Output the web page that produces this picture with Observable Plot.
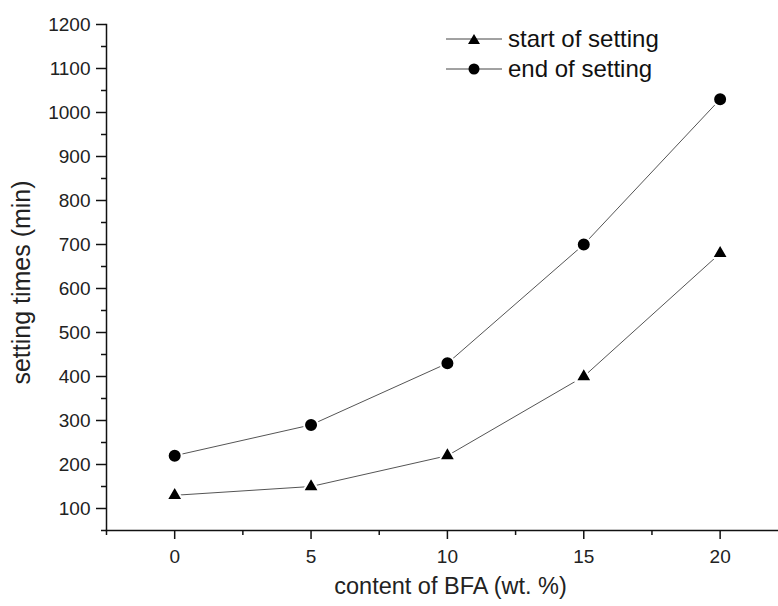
<!DOCTYPE html>
<html>
<head>
<meta charset="utf-8">
<script src="https://cdn.jsdelivr.net/npm/d3@7"></script>
<script src="https://cdn.jsdelivr.net/npm/@observablehq/plot@0.6"></script>
<style>
  html, body { margin: 0; padding: 0; background: #fff; overflow: hidden; }
  #wrap { position: relative; width: 778px; height: 606px; font-family: "Liberation Sans", Arial, sans-serif; }
  #legend { position: absolute; left: 446px; top: 24px; font-size: 24px; color: #111; }
  #legend .row { display: flex; align-items: center; height: 30px; }
  #legend svg { display: block; margin-right: 6px; }
</style>
</head>
<body>
<div id="wrap"></div>
<script>
// Data
const content = [0, 5, 10, 15, 20];
const startSetting = [130, 150, 220, 400, 680];
const endSetting = [220, 290, 430, 700, 1030];
const seriesNames = ["start of setting", "end of setting"];
const xMajor = [0, 5, 10, 15, 20];
const xMinor = [-2.5, 2.5, 7.5, 12.5, 17.5];
const yMajor = [100, 200, 300, 400, 500, 600, 700, 800, 900, 1000, 1100, 1200];
const yMinor = [50, 150, 250, 350, 450, 550, 650, 750, 850, 950, 1050, 1150];

const rows = [];
content.forEach((c, i) => {
  rows.push({x: c, y: startSetting[i], s: seriesNames[0]});
  rows.push({x: c, y: endSetting[i], s: seriesNames[1]});
});

const chart = Plot.plot({
  width: 778,
  height: 606,
  marginLeft: 106,
  marginRight: 0,
  marginTop: 24,
  marginBottom: 76,
  style: {fontFamily: "Liberation Sans, Arial, sans-serif", color: "#111", background: "white"},
  x: {domain: [-2.5, 22.14]},
  y: {domain: [50, 1200]},
  marks: [
    Plot.axisX({ticks: xMinor, tickSize: 5, tickFormat: () => "", label: null, strokeWidth: 1.5, stroke: "#111"}),
    Plot.axisX({ticks: xMajor, tickSize: 9, tickPadding: 10, tickFormat: d3.format("d"), fontSize: 19, strokeWidth: 1.5, stroke: "#111", fill: "#222",
      label: "content of BFA (wt. %)", labelAnchor: "center", labelArrow: "none", labelOffset: 63}),
    Plot.axisY({ticks: yMinor, tickSize: 5, tickFormat: () => "", label: null, strokeWidth: 1.5, stroke: "#111"}),
    Plot.axisY({ticks: yMajor, tickSize: 10, tickPadding: 6, tickFormat: d3.format("d"), fontSize: 19, strokeWidth: 1.5, stroke: "#111", fill: "#222",
      label: "setting times (min)", labelAnchor: "center", labelArrow: "none", labelOffset: 94}),
    Plot.frame({anchor: "bottom", stroke: "#111", strokeWidth: 1.5}),
    Plot.frame({anchor: "left", stroke: "#111", strokeWidth: 1.5}),
    Plot.line(rows, {x: "x", y: "y", z: "s", stroke: "#555", strokeWidth: 1}),
    Plot.dot(rows.filter(d => d.s === seriesNames[0]), {x: "x", y: "y", symbol: "triangle", r: 6, fill: "#000", stroke: "white", strokeWidth: 2}),
    Plot.dot(rows.filter(d => d.s === seriesNames[1]), {x: "x", y: "y", symbol: "circle", r: 7, fill: "#000", stroke: "white", strokeWidth: 2})
  ]
});

// enlarge and nudge axis titles
chart.querySelectorAll("g[aria-label='x-axis label'] text").forEach(t => {
  t.setAttribute("font-size", "23.5");
  t.setAttribute("dx", "8");
});
chart.querySelectorAll("g[aria-label='y-axis label'] text").forEach(t => {
  t.setAttribute("font-size", "25");
  t.setAttribute("dx", "-5");
});

const wrap = document.getElementById("wrap");
wrap.appendChild(chart);

// Legend overlay
const legend = document.createElement("div");
legend.id = "legend";
const sym = {
  [seriesNames[0]]: '<polygon points="28,4 34,14 22,14" fill="#000"/>',
  [seriesNames[1]]: '<circle cx="28" cy="9" r="5.5" fill="#000"/>'
};
seriesNames.forEach(name => {
  const row = document.createElement("div");
  row.className = "row";
  row.innerHTML = `<svg width="56" height="18"><line x1="0" y1="9" x2="56" y2="9" stroke="#444" stroke-width="1"/>${sym[name]}</svg><span>${name}</span>`;
  legend.appendChild(row);
});
wrap.appendChild(legend);
</script>
</body>
</html>
